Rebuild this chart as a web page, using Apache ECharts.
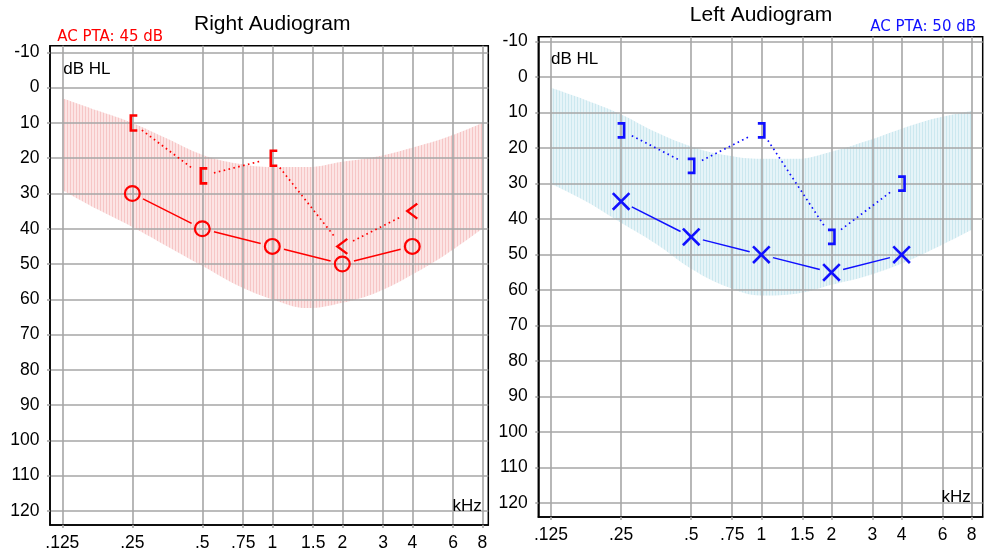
<!DOCTYPE html>
<html>
<head>
<meta charset="utf-8">
<script src="https://cdn.jsdelivr.net/npm/echarts@6/dist/echarts.min.js"></script>
<style>
  html, body { margin: 0; padding: 0; background: #fff; }
  #chart { width: 984px; height: 552px; }
</style>
</head>
<body>
<div id="chart"></div>
<script>
// Frequency axis (kHz) and its labels
const tickFreqs = [0.125, 0.25, 0.5, 0.75, 1, 1.5, 2, 3, 4, 6, 8];
const tickLabels = ['.125', '.25', '.5', '.75', '1', '1.5', '2', '3', '4', '6', '8'];
// Hearing level ticks (dB HL)
const levelTicks = [-10, 0, 10, 20, 30, 40, 50, 60, 70, 80, 90, 100, 110, 120];

// Test frequencies (kHz)
const testFreqs = [0.25, 0.5, 1, 2, 4];

// Right ear: air conduction (O) and bone conduction
const rightAC = [30, 40, 45, 50, 45];
const rightBC = [10, 25, 20, 45, 35];
const rightBCMarks = ['[', '[', '[', '<', '<'];

// Left ear: air conduction (X) and masked bone conduction (])
const leftAC = [35, 45, 50, 55, 50];
const leftBC = [15, 25, 15, 45, 30];
const leftBCMarks = [']', ']', ']', ']', ']'];

// Shaded reference band (dB HL), upper and lower edges
const bandFreqs = [0.125, 0.177, 0.25, 0.354, 0.5, 0.707, 1, 1.414, 2, 2.828, 4, 5.657, 8];
const rightBandTop = [3, 6.5, 10, 14.5, 19, 21.5, 22.5, 22.5, 21, 19.5, 17, 14, 10];
const rightBandBottom = [29, 34.5, 39.5, 45, 50.5, 56, 60, 62.5, 61, 58, 53, 47, 40];
const leftBandTop = [3, 6.5, 10.5, 15.5, 19.5, 22, 23, 23, 21, 18, 14.5, 11.5, 9.5];
const leftBandBottom = [30, 35, 41, 47, 54, 59, 61.5, 61, 58.5, 56, 52.5, 48, 43];

const RED = '#ff0000';
const BLUE = '#1010ff';
const GRID_COLOR = '#a6a6a6';
const FONT = '"Liberation Sans", Arial, sans-serif';

const oct = f => Math.log2(f);
const tickOcts = tickFreqs.map(oct);

function freqLabel(v) {
  for (let i = 0; i < tickOcts.length; i++) {
    if (Math.abs(tickOcts[i] - v) < 1e-6) return tickLabels[i];
  }
  return '';
}

// Vertical-streak fill for the band
function streakPattern(base, streak) {
  const c = document.createElement('canvas');
  c.width = 3; c.height = 8;
  const ctx = c.getContext('2d');
  ctx.fillStyle = base;
  ctx.fillRect(0, 0, 3, 8);
  ctx.fillStyle = streak;
  ctx.fillRect(1, 0, 1, 8);
  return { image: c, repeat: 'repeat' };
}

function xAxisFor(gridIndex, min, max) {
  return {
    type: 'value', gridIndex, min, max,
    axisLine: { show: true, onZero: false, lineStyle: { color: '#000', width: 1.5 } },
    axisTick: { show: true, length: 3, customValues: tickOcts, lineStyle: { color: GRID_COLOR, width: 1.6 } },
    axisLabel: { customValues: tickOcts, formatter: freqLabel, color: '#000', fontSize: 17.5, fontFamily: FONT, margin: 9 },
    splitLine: { show: true, lineStyle: { color: GRID_COLOR, width: 1.6 } }
  };
}

function yAxisFor(gridIndex, min, max) {
  return {
    type: 'value', gridIndex, min, max, inverse: true,
    axisLine: { show: true, onZero: false, lineStyle: { color: '#000', width: 1.5 } },
    axisTick: { show: true, length: 3, customValues: levelTicks, lineStyle: { color: GRID_COLOR, width: 1.6 } },
    axisLabel: { customValues: levelTicks, color: '#000', fontSize: 17.5, fontFamily: FONT, margin: 10.5 },
    splitLine: { show: true, lineStyle: { color: GRID_COLOR, width: 1.6 } }
  };
}

// Band: lower edge filled up to the top of the plot, then the area above
// the upper edge painted white again; both sit beneath the grid lines.
function bandSeries(idx, top, bottom, fill) {
  const base = {
    type: 'line', xAxisIndex: idx, yAxisIndex: idx,
    smooth: 0.4, symbol: 'none', silent: true,
    lineStyle: { opacity: 0 }
  };
  return [
    Object.assign({}, base, {
      z: -2,
      data: bandFreqs.map((f, i) => [oct(f), bottom[i]]),
      areaStyle: { color: fill, opacity: 1, origin: 'start' }
    }),
    Object.assign({}, base, {
      z: -1,
      data: bandFreqs.map((f, i) => [oct(f), top[i]]),
      areaStyle: { color: '#ffffff', opacity: 1, origin: 'start' }
    })
  ];
}

// Shorten a segment by `gap` px at both ends
function gappedSegment(p, q, gap) {
  const dx = q[0] - p[0], dy = q[1] - p[1];
  const len = Math.sqrt(dx * dx + dy * dy);
  const ux = dx / len, uy = dy / len;
  return { x1: p[0] + ux * gap, y1: p[1] + uy * gap, x2: q[0] - ux * gap, y2: q[1] - uy * gap };
}

function markShape(mark, p, color) {
  const [x, y] = p;
  if (mark === 'O') {
    return { type: 'circle', shape: { cx: x, cy: y, r: 7.4 }, style: { fill: 'none', stroke: color, lineWidth: 2.2 } };
  }
  if (mark === 'X') {
    const s = 8.3;
    return { type: 'group', children: [
      { type: 'line', shape: { x1: x - s, y1: y - s, x2: x + s, y2: y + s }, style: { stroke: color, lineWidth: 2.6 } },
      { type: 'line', shape: { x1: x + s, y1: y - s, x2: x - s, y2: y + s }, style: { stroke: color, lineWidth: 2.6 } }
    ] };
  }
  if (mark === '[') {
    return { type: 'polyline', shape: { points: [[x + 5, y - 7.5], [x - 1.5, y - 7.5], [x - 1.5, y + 7.5], [x + 5, y + 7.5]] },
      style: { fill: 'none', stroke: color, lineWidth: 2.6 } };
  }
  if (mark === ']') {
    return { type: 'polyline', shape: { points: [[x - 3.5, y - 7], [x + 3, y - 7], [x + 3, y + 7], [x - 3.5, y + 7]] },
      style: { fill: 'none', stroke: color, lineWidth: 2.6 } };
  }
  // '<'
  return { type: 'polyline', shape: { points: [[x + 5, y - 7.5], [x - 5, y], [x + 5, y + 7.5]] },
    style: { fill: 'none', stroke: color, lineWidth: 2.4 } };
}

function thresholdSeries(idx, values, marks, color, dotted) {
  return {
    type: 'custom', xAxisIndex: idx, yAxisIndex: idx, z: dotted ? 3 : 4,
    clip: false, silent: true,
    encode: { x: 0, y: 1 },
    data: testFreqs.map((f, i) => [oct(f), values[i]]),
    renderItem: function (params, api) {
      const i = params.dataIndex;
      const p = api.coord([api.value(0), api.value(1)]);
      const children = [];
      if (i < values.length - 1) {
        const q = api.coord([oct(testFreqs[i + 1]), values[i + 1]]);
        children.push({
          type: 'line',
          shape: gappedSegment(p, q, 12),
          style: dotted
            ? { stroke: color, lineWidth: 1.7, lineDash: [1.6, 3.4], lineCap: 'butt' }
            : { stroke: color, lineWidth: 1.5 }
        });
      }
      children.push(markShape(marks[i], p, color));
      return { type: 'group', children };
    }
  };
}

const chart = echarts.init(document.getElementById('chart'), null, { renderer: 'canvas' });

const option = {
  animation: false,
  backgroundColor: '#fff',
  textStyle: { fontFamily: FONT },
  grid: [
    { left: 50, top: 45.7, width: 438.3, height: 481, show: true, borderColor: '#000', borderWidth: 1.5, backgroundColor: 'transparent' },
    { left: 538.3, top: 36.7, width: 444.4, height: 480.3, show: true, borderColor: '#000', borderWidth: 1.5, backgroundColor: 'transparent' }
  ],
  xAxis: [xAxisFor(0, -3.176, 3.086), xAxisFor(1, -3.181, 3.157)],
  yAxis: [yAxisFor(0, -11.9, 124), yAxisFor(1, -11.4, 123.9)],
  graphic: [
    { type: 'text', x: 272.2, y: 24, style: { text: 'Right Audiogram', font: '21px ' + FONT, fill: '#000', textAlign: 'center', textVerticalAlign: 'middle' } },
    { type: 'text', x: 761, y: 15, style: { text: 'Left Audiogram', font: '21px ' + FONT, fill: '#000', textAlign: 'center', textVerticalAlign: 'middle' } },
    { type: 'text', x: 57.3, y: 36.7, style: { text: 'AC PTA: 45 dB', font: '15px "DejaVu Sans", sans-serif', fill: RED, textAlign: 'left', textVerticalAlign: 'middle' } },
    { type: 'text', x: 976, y: 27.5, style: { text: 'AC PTA: 50 dB', font: '15px "DejaVu Sans", sans-serif', fill: BLUE, textAlign: 'right', textVerticalAlign: 'middle' } },
    { type: 'text', x: 63.3, y: 69.3, z: 10, style: { text: 'dB HL', font: '17px ' + FONT, fill: '#000', textAlign: 'left', textVerticalAlign: 'middle' } },
    { type: 'text', x: 551, y: 59.3, z: 10, style: { text: 'dB HL', font: '17px ' + FONT, fill: '#000', textAlign: 'left', textVerticalAlign: 'middle' } },
    { type: 'text', x: 481.7, y: 506, z: 10, style: { text: 'kHz', font: '17px ' + FONT, fill: '#000', textAlign: 'right', textVerticalAlign: 'middle' } },
    { type: 'text', x: 970.7, y: 497.5, z: 10, style: { text: 'kHz', font: '17px ' + FONT, fill: '#000', textAlign: 'right', textVerticalAlign: 'middle' } }
  ],
  series: [
    ...bandSeries(0, rightBandTop, rightBandBottom, streakPattern('#fce4e4', '#f6c6c6')),
    ...bandSeries(1, leftBandTop, leftBandBottom, streakPattern('#e6f4f8', '#cce8ef')),
    thresholdSeries(0, rightBC, rightBCMarks, RED, true),
    thresholdSeries(0, rightAC, ['O', 'O', 'O', 'O', 'O'], RED, false),
    thresholdSeries(1, leftBC, leftBCMarks, BLUE, true),
    thresholdSeries(1, leftAC, ['X', 'X', 'X', 'X', 'X'], BLUE, false)
  ]
};

chart.setOption(option);
</script>
</body>
</html>
